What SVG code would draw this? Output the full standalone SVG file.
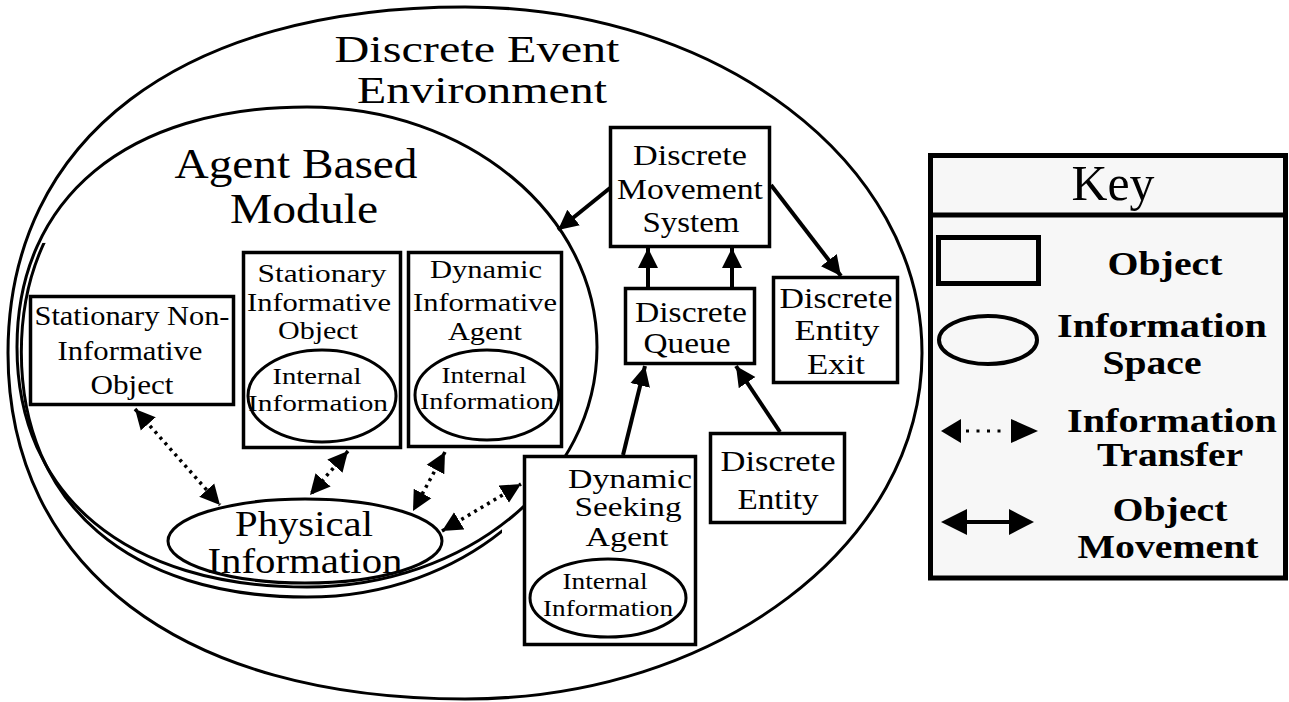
<svg xmlns="http://www.w3.org/2000/svg" width="1289" height="702" viewBox="0 0 1289 702">
<style>
  .t { font-family: "Liberation Serif", "Times New Roman", serif; fill: #000; text-anchor: middle; }
  .kb { font-family: "Liberation Serif", "Times New Roman", serif; font-weight: bold; fill: #000; text-anchor: middle; }
  .box { fill: #fff; stroke: #000; stroke-width: 3.5; }
  .ell { fill: none; stroke: #000; stroke-width: 3; }
  .ellw { fill: #fff; stroke: #000; stroke-width: 3; }
  .solid { fill: none; stroke: #000; stroke-width: 4; marker-end: url(#ah); }
  .dot { fill: none; stroke: #000; stroke-width: 3.5; stroke-dasharray: 3 4.5; marker-start: url(#ah); marker-end: url(#ah); }
</style>
<defs>
  <marker id="ah" markerUnits="userSpaceOnUse" markerWidth="22" markerHeight="22" refX="20" refY="10" orient="auto-start-reverse" viewBox="0 0 22 20">
    <path d="M0,0 L20,10 L0,20 z" fill="#000"/>
  </marker>
  <clipPath id="lowerLeft">
    <polygon points="0,240 300,240 505,470 505,702 0,702"/>
  </clipPath>
</defs>
<rect width="1289" height="702" fill="#fff"/>

<g id="discrete-event-environment">
  <path class="ell" d="M 465 7 C 181.7 7 8 138.5 8 353 C 8 567.5 181.7 699 465 699 C 717.4 699 922 544.1 922 353 C 922 161.9 717.4 7 465 7 Z"/>
  <text class="t" x="477" y="61.5" font-size="38" textLength="285" lengthAdjust="spacingAndGlyphs">Discrete Event</text>
  <text class="t" x="482" y="103" font-size="38" textLength="250" lengthAdjust="spacingAndGlyphs">Environment</text>
</g>

<g id="agent-based-module">
  <path class="ell" d="M 307 107 C 127 107 17 198 17 347 C 17 496 127 587 307 587 C 467.2 587 597 479.6 597 347 C 597 214.4 467.2 107 307 107 Z"/>
  <path class="ell" clip-path="url(#lowerLeft)" d="M 307 107 C 127 107 17 198 17 347 C 17 496 127 587 307 587 C 467.2 587 597 479.6 597 347 C 597 214.4 467.2 107 307 107 Z" transform="translate(307 107) scale(0.985 1.021) translate(-307 -107)"/>
  <text class="t" x="296" y="178" font-size="42" textLength="243" lengthAdjust="spacingAndGlyphs">Agent Based</text>
  <text class="t" x="304" y="223" font-size="42" textLength="148" lengthAdjust="spacingAndGlyphs">Module</text>
</g>

<g id="stationary-non-informative-object">
  <rect class="box" x="30.5" y="296.5" width="203" height="108"/>
  <text class="t" x="132" y="325" font-size="28" textLength="195" lengthAdjust="spacingAndGlyphs">Stationary Non-</text>
  <text class="t" x="130" y="360" font-size="28" textLength="145" lengthAdjust="spacingAndGlyphs">Informative</text>
  <text class="t" x="132" y="394" font-size="28" textLength="83" lengthAdjust="spacingAndGlyphs">Object</text>
</g>

<g id="stationary-informative-object">
  <rect class="box" x="243.5" y="252.5" width="157" height="195"/>
  <text class="t" x="322" y="282" font-size="26" textLength="129" lengthAdjust="spacingAndGlyphs">Stationary</text>
  <text class="t" x="319" y="311" font-size="26" textLength="144" lengthAdjust="spacingAndGlyphs">Informative</text>
  <text class="t" x="318" y="339" font-size="26" textLength="80" lengthAdjust="spacingAndGlyphs">Object</text>
  <ellipse class="ell" cx="322" cy="396" rx="74" ry="46"/>
  <text class="t" x="317" y="384" font-size="23.5" textLength="89" lengthAdjust="spacingAndGlyphs">Internal</text>
  <text class="t" x="318" y="411" font-size="23.5" textLength="140" lengthAdjust="spacingAndGlyphs">Information</text>
</g>

<g id="dynamic-informative-agent">
  <rect class="box" x="408.5" y="252.5" width="153" height="194"/>
  <text class="t" x="486" y="278" font-size="26" textLength="112" lengthAdjust="spacingAndGlyphs">Dynamic</text>
  <text class="t" x="485" y="311" font-size="26" textLength="144" lengthAdjust="spacingAndGlyphs">Informative</text>
  <text class="t" x="485" y="340" font-size="26" textLength="74" lengthAdjust="spacingAndGlyphs">Agent</text>
  <ellipse class="ell" cx="487" cy="395" rx="72" ry="45"/>
  <text class="t" x="484" y="383" font-size="23.5" textLength="85" lengthAdjust="spacingAndGlyphs">Internal</text>
  <text class="t" x="487" y="409" font-size="23.5" textLength="134" lengthAdjust="spacingAndGlyphs">Information</text>
</g>

<g id="physical-information">
  <ellipse class="ellw" cx="305" cy="541" rx="137" ry="42"/>
  <text class="t" x="304" y="536" font-size="35" textLength="138" lengthAdjust="spacingAndGlyphs">Physical</text>
  <text class="t" x="305" y="573" font-size="35" textLength="195" lengthAdjust="spacingAndGlyphs">Information</text>
</g>

<g id="dynamic-seeking-agent">
  <rect class="box" x="524.5" y="456.5" width="171" height="188"/>
  <text class="t" x="630" y="488" font-size="28" textLength="124" lengthAdjust="spacingAndGlyphs">Dynamic</text>
  <text class="t" x="628" y="516" font-size="28" textLength="107" lengthAdjust="spacingAndGlyphs">Seeking</text>
  <text class="t" x="627" y="546" font-size="28" textLength="83" lengthAdjust="spacingAndGlyphs">Agent</text>
  <ellipse class="ell" cx="608" cy="598" rx="78" ry="39"/>
  <text class="t" x="605" y="589" font-size="23.5" textLength="85" lengthAdjust="spacingAndGlyphs">Internal</text>
  <text class="t" x="608" y="616" font-size="23.5" textLength="130" lengthAdjust="spacingAndGlyphs">Information</text>
</g>

<g id="discrete-movement-system">
  <rect class="box" x="610.5" y="127.5" width="159" height="119"/>
  <text class="t" x="690" y="165" font-size="29" textLength="114" lengthAdjust="spacingAndGlyphs">Discrete</text>
  <text class="t" x="690" y="199" font-size="29" textLength="146" lengthAdjust="spacingAndGlyphs">Movement</text>
  <text class="t" x="691" y="232" font-size="29" textLength="97" lengthAdjust="spacingAndGlyphs">System</text>
</g>

<g id="discrete-queue">
  <rect class="box" x="625.5" y="288.5" width="129" height="75"/>
  <text class="t" x="691" y="322" font-size="29" textLength="112" lengthAdjust="spacingAndGlyphs">Discrete</text>
  <text class="t" x="687" y="353" font-size="29" textLength="87" lengthAdjust="spacingAndGlyphs">Queue</text>
</g>

<g id="discrete-entity-exit">
  <rect class="box" x="773.5" y="277.5" width="124" height="105"/>
  <text class="t" x="836" y="308" font-size="29" textLength="113" lengthAdjust="spacingAndGlyphs">Discrete</text>
  <text class="t" x="837" y="340" font-size="29" textLength="85" lengthAdjust="spacingAndGlyphs">Entity</text>
  <text class="t" x="836" y="374" font-size="29" textLength="58" lengthAdjust="spacingAndGlyphs">Exit</text>
</g>

<g id="discrete-entity">
  <rect class="box" x="710.5" y="433.5" width="134" height="89"/>
  <text class="t" x="778" y="471" font-size="30" textLength="115" lengthAdjust="spacingAndGlyphs">Discrete</text>
  <text class="t" x="778" y="509" font-size="30" textLength="81" lengthAdjust="spacingAndGlyphs">Entity</text>
</g>

<g id="connectors">
  <line class="solid" x1="610" y1="188" x2="558" y2="230"/>
  <line class="solid" x1="771" y1="185" x2="841" y2="276"/>
  <line class="solid" x1="648" y1="287" x2="648" y2="248"/>
  <line class="solid" x1="732" y1="287" x2="732" y2="248"/>
  <line class="solid" x1="623" y1="455" x2="645" y2="366"/>
  <line class="solid" x1="780" y1="432" x2="736" y2="366"/>
  <line class="dot" x1="135" y1="409" x2="220" y2="505"/>
  <line class="dot" x1="348" y1="451" x2="310" y2="495"/>
  <line class="dot" x1="445" y1="452" x2="413" y2="511"/>
  <line class="dot" x1="442" y1="531" x2="521" y2="484"/>
</g>

<g id="key">
  <rect x="930.5" y="155.5" width="355" height="422.5" fill="#f7f7f7" stroke="#000" stroke-width="5"/>
  <line x1="930" y1="215" x2="1286" y2="215" stroke="#000" stroke-width="5"/>
  <text class="t" x="1113" y="200" font-size="50" textLength="83" lengthAdjust="spacingAndGlyphs">Key</text>
  <rect x="938.5" y="237.5" width="100" height="46" fill="none" stroke="#000" stroke-width="5"/>
  <text class="kb" x="1165" y="275" font-size="33" textLength="115" lengthAdjust="spacingAndGlyphs">Object</text>
  <ellipse cx="988" cy="340" rx="49" ry="24" fill="none" stroke="#000" stroke-width="4"/>
  <text class="kb" x="1162" y="337" font-size="33" textLength="210" lengthAdjust="spacingAndGlyphs">Information</text>
  <text class="kb" x="1152" y="374" font-size="33" textLength="99" lengthAdjust="spacingAndGlyphs">Space</text>
  <polygon points="941,431 961,419 961,443" fill="#000"/>
  <polygon points="1038,431 1011,419 1011,443" fill="#000"/>
  <line x1="966" y1="431" x2="1008" y2="431" stroke="#000" stroke-width="3" stroke-dasharray="3 7.5"/>
  <text class="kb" x="1172" y="432" font-size="33" textLength="210" lengthAdjust="spacingAndGlyphs">Information</text>
  <text class="kb" x="1170" y="466" font-size="33" textLength="146" lengthAdjust="spacingAndGlyphs">Transfer</text>
  <polygon points="941,522 967,509 967,535" fill="#000"/>
  <polygon points="1034,522 1009,509 1009,535" fill="#000"/>
  <line x1="965" y1="522" x2="1011" y2="522" stroke="#000" stroke-width="4"/>
  <text class="kb" x="1170" y="521" font-size="33" textLength="115" lengthAdjust="spacingAndGlyphs">Object</text>
  <text class="kb" x="1168" y="558" font-size="33" textLength="181" lengthAdjust="spacingAndGlyphs">Movement</text>
</g>
</svg>
